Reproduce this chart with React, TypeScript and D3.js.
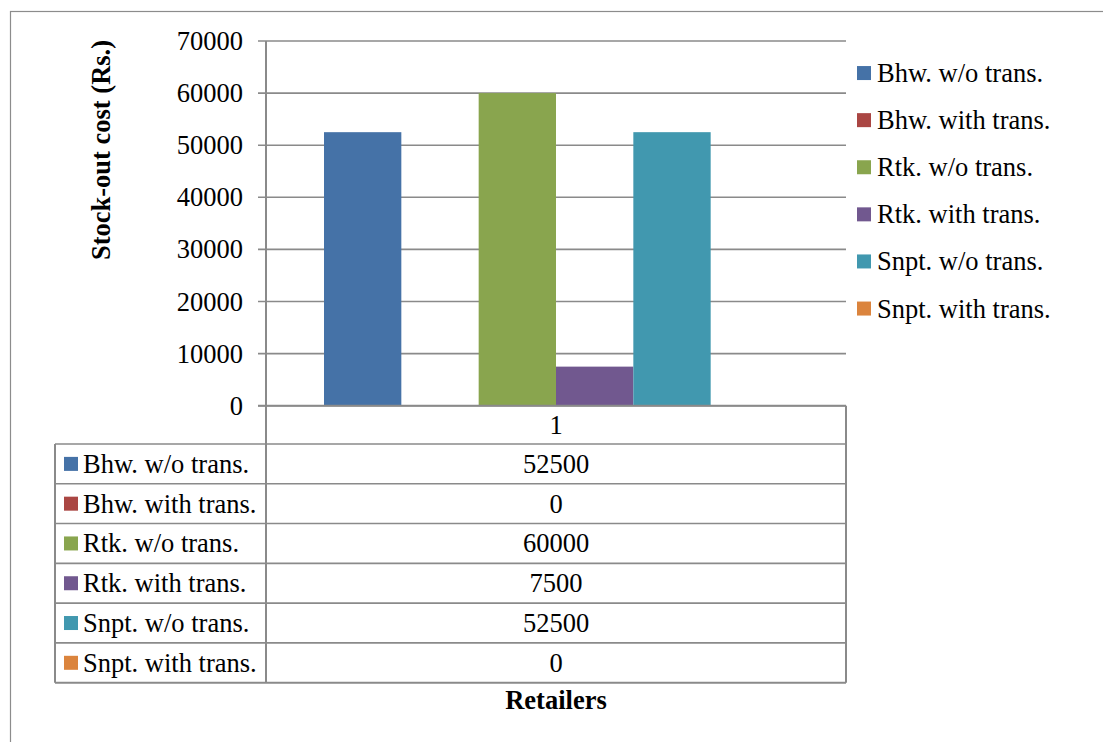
import React from "react";
import * as d3 from "d3";

const categories = ["1"];
const seriesNames = [
  "Bhw. w/o trans.",
  "Bhw. with trans.",
  "Rtk. w/o trans.",
  "Rtk. with trans.",
  "Snpt. w/o trans.",
  "Snpt. with trans.",
];
const seriesValues = [52500, 0, 60000, 7500, 52500, 0];
const seriesColors = ["#4572A7", "#AA4643", "#89A54E", "#71588F", "#4198AF", "#DB843D"];
const yTicks = [0, 10000, 20000, 30000, 40000, 50000, 60000, 70000];
const yTitle = "Stock-out cost (Rs.)";
const xTitle = "Retailers";

const W = 1103;
const H = 742;
const plotLeft = 266;
const plotRight = 846;
const plotTop = 41;
const plotBottom = 405.7;
const tableLeft = 55;
const headerBottom = 444;
const tableBottom = 682.7;
const FONT = "'Liberation Serif', 'Times New Roman', serif";
const FS = 26.5;
const GRID = "#8a8a8a";

export default function App() {
  const y = d3.scaleLinear().domain([0, 70000]).range([plotBottom, plotTop]);
  const xBand = d3.scaleBand().domain(categories).range([plotLeft, plotRight]).paddingInner(0).paddingOuter(0);
  const bw = xBand.bandwidth();
  const groupPad = bw * 0.1;
  const xSeries = d3
    .scaleBand()
    .domain(seriesNames)
    .range([groupPad, bw - groupPad])
    .padding(0);
  const rowScale = d3.scaleBand().domain(seriesNames).range([headerBottom, tableBottom]);
  const legendY = d3.scaleBand().domain(seriesNames).range([49, 49 + 47.1 * 6]);

  return (
    <svg width={W} height={H} style={{ position: "absolute", left: 0, top: 0, background: "#fff" }}>
      <rect x={0} y={0} width={W} height={H} fill="#fff" />
      {/* outer frame */}
      <rect x={10.5} y={11.5} width={1200} height={800} fill="none" stroke="#8c8c8c" strokeWidth={1.2} />

      {/* gridlines */}
      {yTicks.map((t) => (
        <line key={"g" + t} x1={258} x2={plotRight} y1={y(t)} y2={y(t)} stroke={GRID} strokeWidth={1.6} />
      ))}
      {yTicks.map((t) => (
        <text key={"t" + t} x={243} y={y(t)} dy="0.34em" textAnchor="end" fontFamily={FONT} fontSize={FS} fill="#000">
          {t}
        </text>
      ))}

      {/* bars */}
      {categories.map((c) => (
        <g key={c} transform={`translate(${xBand(c)},0)`}>
          {seriesNames.map((s, si) => (
            <rect
              key={s}
              x={xSeries(s)}
              y={y(seriesValues[si])}
              width={xSeries.bandwidth()}
              height={plotBottom - y(seriesValues[si])}
              fill={seriesColors[si]}
            />
          ))}
        </g>
      ))}

      {/* axis line at zero */}
      <line x1={258} x2={plotRight} y1={plotBottom} y2={plotBottom} stroke={GRID} strokeWidth={2} />

      {/* table */}
      <line x1={plotLeft} x2={plotLeft} y1={plotTop} y2={tableBottom} stroke={GRID} strokeWidth={2} />
      <line x1={plotRight} x2={plotRight} y1={plotBottom} y2={tableBottom} stroke={GRID} strokeWidth={2} />
      <line x1={tableLeft} x2={tableLeft} y1={headerBottom} y2={tableBottom} stroke={GRID} strokeWidth={2} />
      <line x1={tableLeft} x2={plotRight} y1={tableBottom} y2={tableBottom} stroke={GRID} strokeWidth={2} />
      {seriesNames.map((s) => (
        <line
          key={"r" + s}
          x1={tableLeft}
          x2={plotRight}
          y1={rowScale(s)}
          y2={rowScale(s)}
          stroke={GRID}
          strokeWidth={1.6}
        />
      ))}
      {categories.map((c) => (
        <text
          key={"c" + c}
          x={(xBand(c) as number) + bw / 2}
          y={(plotBottom + headerBottom) / 2}
          dy="0.34em"
          textAnchor="middle"
          fontFamily={FONT}
          fontSize={FS}
        >
          {c}
        </text>
      ))}
      {seriesNames.map((s, si) => {
        const ry = (rowScale(s) as number) + rowScale.bandwidth() / 2;
        return (
          <g key={"row" + s}>
            <rect x={64} y={ry - 7} width={14} height={14} fill={seriesColors[si]} />
            <text x={83} y={ry} dy="0.34em" fontFamily={FONT} fontSize={FS}>
              {s}
            </text>
            <text x={(plotLeft + plotRight) / 2} y={ry} dy="0.34em" textAnchor="middle" fontFamily={FONT} fontSize={FS}>
              {seriesValues[si]}
            </text>
          </g>
        );
      })}

      {/* legend */}
      {seriesNames.map((s, si) => {
        const ly = (legendY(s) as number) + legendY.bandwidth() / 2 + 0.5;
        return (
          <g key={"l" + s}>
            <rect x={857} y={ly - 7} width={14} height={14} fill={seriesColors[si]} />
            <text x={877} y={ly} dy="0.34em" fontFamily={FONT} fontSize={FS}>
              {s}
            </text>
          </g>
        );
      })}

      {/* titles */}
      <text
        transform={`translate(110,150) rotate(-90)`}
        textAnchor="middle"
        fontFamily={FONT}
        fontWeight="bold"
        fontSize={FS}
      >
        {yTitle}
      </text>
      <text x={556} y={709} textAnchor="middle" fontFamily={FONT} fontWeight="bold" fontSize={FS}>
        {xTitle}
      </text>
    </svg>
  );
}
